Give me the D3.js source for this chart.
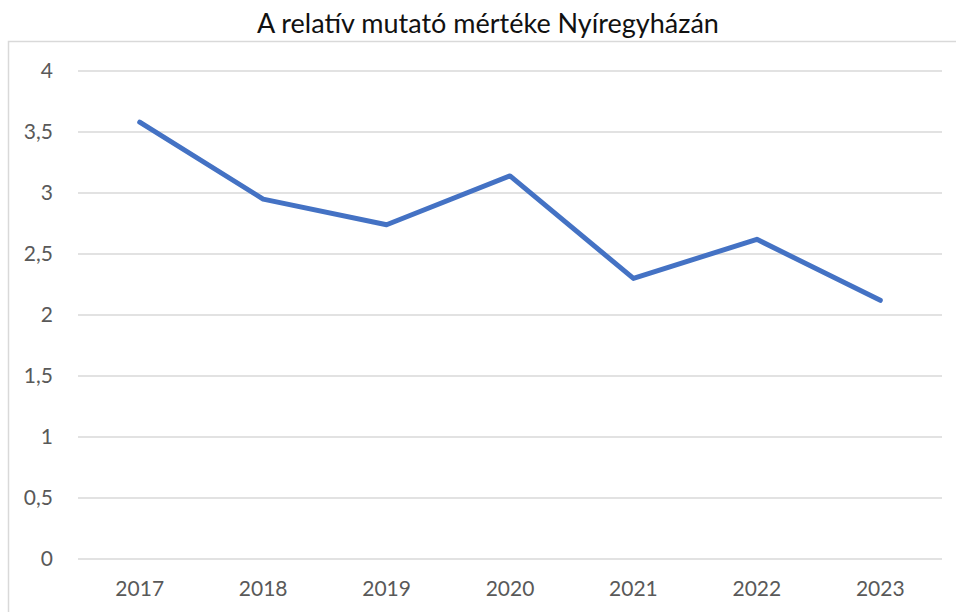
<!DOCTYPE html>
<html>
<head>
<meta charset="utf-8">
<script src="https://cdn.jsdelivr.net/npm/d3@7"></script>
<style>
  body { margin: 0; background: #fff; }
  text { font-family: Lato, "Open Sans", sans-serif; }
</style>
</head>
<body>
<svg id="chart"></svg>
<script>
// Data
const years = ["2017", "2018", "2019", "2020", "2021", "2022", "2023"];
const values = [3.58, 2.95, 2.74, 3.14, 2.30, 2.62, 2.12];
const yTicks = [0, 0.5, 1, 1.5, 2, 2.5, 3, 3.5, 4];
const title = "A relatív mutató mértéke Nyíregyházán";

// SVG Dimensions
const W = 956, H = 612;
const margin = { top: 71, right: 14, bottom: 53, left: 78 };
const width = W - margin.left - margin.right;
const height = H - margin.top - margin.bottom;

const root = d3.select("#chart").attr("width", W).attr("height", H);

// chart area border (cut off at right and bottom like the original)
root.append("rect")
    .attr("x", 8.5).attr("y", 41.5)
    .attr("width", 960).attr("height", 600)
    .attr("fill", "none")
    .attr("stroke", "#d9d9d9")
    .attr("stroke-width", 1.5);

// Title
root.append("text")
    .attr("x", 488).attr("y", 33)
    .attr("text-anchor", "middle")
    .attr("font-size", 27)
    .attr("fill", "#111")
    .text(title);

const svg = root.append("g").attr("transform", `translate(${margin.left}, ${margin.top})`);

// Scales
const x = d3.scaleBand().domain(years).range([0, width]);
const y = d3.scaleLinear().domain([0, 4]).range([height, 0]);

// gridlines
svg.append("g")
    .selectAll("line")
    .data(yTicks)
    .enter()
    .append("line")
    .attr("x1", 0).attr("x2", width)
    .attr("y1", d => y(d)).attr("y2", d => y(d))
    .attr("stroke", "#d9d9d9")
    .attr("stroke-width", 1.5);

// y axis labels
const fmt = d => String(d).replace(".", ",");
const yAxis = svg.append("g")
    .call(d3.axisLeft(y).tickValues(yTicks).tickFormat(fmt).tickSize(0).tickPadding(25));
yAxis.select(".domain").remove();
yAxis.selectAll("text").attr("font-size", 21).attr("fill", "#595959").attr("font-family", "Lato");

// x axis labels
const xAxis = svg.append("g")
    .attr("transform", `translate(0,${height})`)
    .call(d3.axisBottom(x).tickSize(0).tickPadding(22));
xAxis.select(".domain").remove();
xAxis.selectAll("text").attr("font-size", 21).attr("fill", "#595959").attr("font-family", "Lato");

// line
const line = d3.line()
    .x((d, i) => x(years[i]) + x.bandwidth() / 2)
    .y(d => y(d));

svg.append("path")
    .datum(values)
    .attr("d", line)
    .attr("fill", "none")
    .attr("stroke", "#4472c4")
    .attr("stroke-width", 5)
    .attr("stroke-linejoin", "round")
    .attr("stroke-linecap", "round");
</script>
</body>
</html>
